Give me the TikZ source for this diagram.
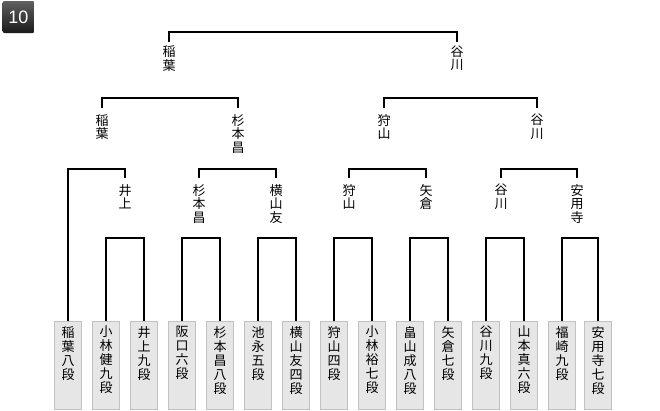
\documentclass[tikz,border=0pt]{standalone}
\usepackage{fontspec}
\setmainfont{Liberation Sans}
\newfontfamily\jpfont{Noto Sans CJK JP}
\usepackage{tikz}
\usetikzlibrary{positioning,calc}
\definecolor{boxfill}{HTML}{E6E6E6}
\definecolor{boxline}{HTML}{C2C2C2}
\definecolor{badgetop}{HTML}{606060}
\definecolor{badgebot}{HTML}{1A1A1A}
\tikzset{
  playerbox/.style={
    rectangle, draw=boxline, fill=boxfill, line width=0.9pt,
    minimum width=27pt, minimum height=88pt,
    anchor=north, inner sep=0pt
  },
  namecol/.style={
    font=\jpfont\fontsize{13}{14}\selectfont, align=center,
    anchor=north, inner sep=0pt, yshift=-5pt
  },
  winner/.style={
    font=\jpfont\fontsize{13}{13.5}\selectfont, align=center,
    anchor=north, inner xsep=0pt, inner ysep=6pt
  },
  bracket/.style={
    draw=black, line width=1.2pt
  },
  badge/.style={
    rectangle, rounded corners=2pt, top color=badgetop, bottom color=badgebot,
    minimum width=32pt, minimum height=32pt, inner sep=0pt,
    text=white, font=\fontsize{18}{18}\selectfont
  },
}

\begin{document}
\begin{tikzpicture}[x=1pt, y=1pt]
\useasboundingbox (0,0) rectangle (660,-410);

% Round number
\node[badge] (num) at (18.5,-17) {10};

% Players
\foreach \x/\n [count=\i] in {68/{稲\\葉\\八\\段}, 106/{小\\林\\健\\九\\段},
    144/{井\\上\\九\\段}, 182/{阪\\口\\六\\段}, 220/{杉\\本\\昌\\八\\段},
    258/{池\\永\\五\\段}, 296/{横\\山\\友\\四\\段}, 334/{狩\\山\\四\\段},
    372/{小\\林\\裕\\七\\段}, 410/{畠\\山\\成\\八\\段}, 448/{矢\\倉\\七\\段},
    486/{谷\\川\\九\\段}, 524/{山\\本\\真\\六\\段}, 562/{福\\崎\\九\\段},
    598/{安\\用\\寺\\七\\段}}{
  \node[playerbox] (p\i) at (\x,-321) {};
  \node[namecol] (n\i) at (p\i.north) {\n};
}

% First round winners
\node[winner] (w1) at (125,-178) {井\\上};
\node[winner] (w2) at (199,-178) {杉\\本\\昌};
\node[winner] (w3) at (276,-178) {横\\山\\友};
\node[winner] (w4) at (349,-178) {狩\\山};
\node[winner] (w5) at (426,-178) {矢\\倉};
\node[winner] (w6) at (501,-178) {谷\\川};
\node[winner] (w7) at (577,-178) {安\\用\\寺};

% Semifinalists
\node[winner] (s1) at (102,-108) {稲\\葉};
\node[winner] (s2) at (238,-108) {杉\\本\\昌};
\node[winner] (s3) at (384,-108) {狩\\山};
\node[winner] (s4) at (537,-108) {谷\\川};

% Finalists
\node[winner, inner ysep=4pt] (f1) at (169,-41.5) {稲\\葉};
\node[winner, inner ysep=4pt] (f2) at (457,-41.5) {谷\\川};

% First round
\foreach \a/\b in {2/3, 4/5, 6/7, 8/9, 10/11, 12/13, 14/15}
  \draw[bracket] (p\a.north) -- ++(0,83) -| (p\b.north);

% Second round
\draw[bracket] (w1.north) -- ++(0,9) -| (p1.north);
\draw[bracket] (w2.north) -- ++(0,9) -| (w3.north);
\draw[bracket] (w4.north) -- ++(0,9) -| (w5.north);
\draw[bracket] (w6.north) -- ++(0,9) -| (w7.north);

% Semifinals and final
\draw[bracket] (s1.north) -- ++(0,10) -| (s2.north);
\draw[bracket] (s3.north) -- ++(0,10) -| (s4.north);
\draw[bracket] (f1.north) -- ++(0,9.5) -| (f2.north);

\end{tikzpicture}
\end{document}
